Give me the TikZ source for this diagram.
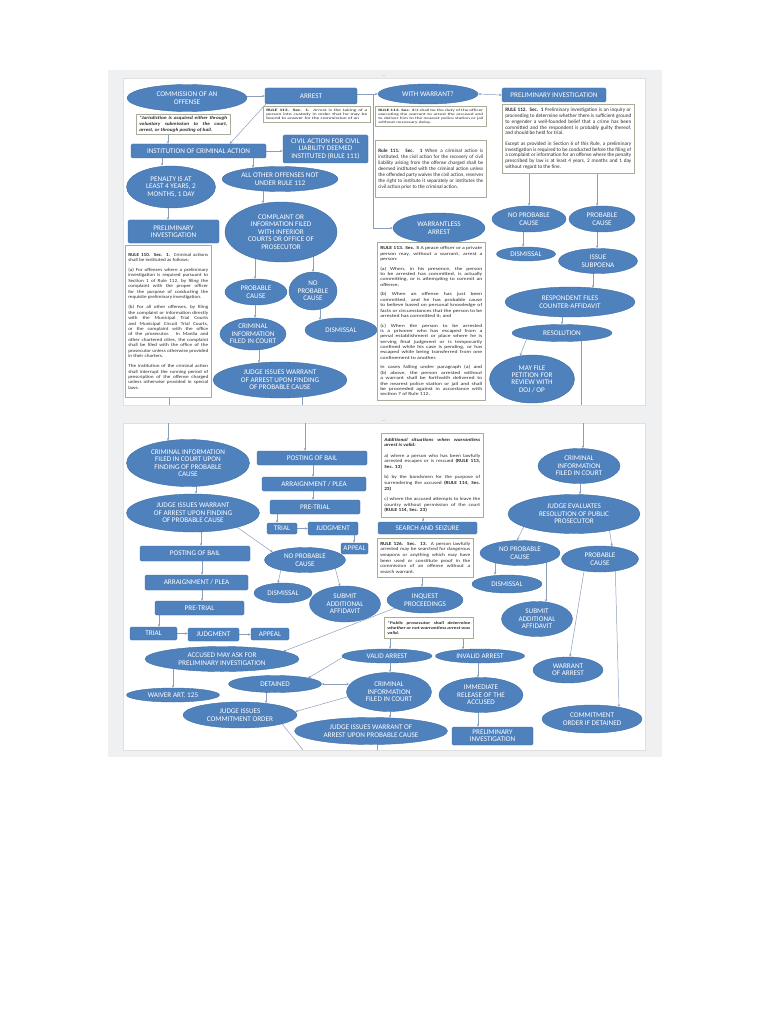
\documentclass[tikz,border=0pt]{standalone}
\usepackage{fontspec}
\usepackage{graphicx}
\setmainfont{Carlito}
\usetikzlibrary{shapes.geometric,arrows.meta,calc}
\pgfdeclarelayer{bglayer}
\pgfdeclarelayer{connlayer}
\pgfsetlayers{bglayer,connlayer,main}
\definecolor{nodeblue}{HTML}{4F81BD}
\definecolor{nodeedge}{HTML}{3F6FA6}
\definecolor{linegray}{HTML}{8C9FBA}
\definecolor{boxedge}{HTML}{A9AC98}
\definecolor{panelgray}{HTML}{EFF0F2}
\definecolor{bodytext}{HTML}{2E2E2E}
% #1 vertical factor, #2 width, #3 font size, #4 leading, #5 text
\newcommand\sqtext[5]{\scalebox{1}[#1]{\parbox{#2}{\fontsize{#3}{#4}\selectfont\sloppy\hyphenpenalty=10000\exhyphenpenalty=10000\relax #5}}}
\newcommand\pgap{\par\vspace{0.8\baselineskip}}
\tikzset{
  ell/.style={ellipse, fill=nodeblue, draw=nodeedge, line width=0.4pt, text=white, font=\fontsize{7.2}{7.4}\selectfont, align=center, inner sep=-3pt},
  rbox/.style={rectangle, rounded corners=1.5pt, fill=nodeblue, draw=nodeedge, line width=0.4pt, text=white, font=\fontsize{7.2}{7.4}\selectfont, align=center, inner sep=0pt},
  sz/.style 2 args={minimum width=#1pt, minimum height=#2pt},
  txtbox/.style={rectangle, draw=boxedge, fill=white, line width=0.5pt, inner xsep=3pt, inner ysep=1.5pt, anchor=north west, text=bodytext},
  arr/.style={draw=linegray, line width=0.5pt, -{Stealth[length=2.8pt,width=2.4pt]}},
  arrtwo/.style={draw=linegray, line width=0.5pt, {Stealth[length=2.8pt,width=2.4pt]}-{Stealth[length=2.8pt,width=2.4pt]}},
  ln/.style={draw=linegray, line width=0.5pt},
  page/.style={fill=white, draw=black!12, line width=0.5pt},
}
\begin{document}
\begin{tikzpicture}[x=1pt,y=-1pt]
\useasboundingbox (0,0) rectangle (768,1024);
\foreach \xx in {159,162,168,169,173,196,201,202,253,255,259,263,266,277,302,305,313,320,354,377,390,422,423,463,478,495,523,529,546,562,580,581,583,593,597}
  {\coordinate (gx\xx) at (\xx,0);}
% ---------------- page 1 ----------------
\node[ell, sz={120}{27}] (comm) at (187,98) {COMMISSION OF AN\\OFFENSE};
\node[rbox, sz={92}{16}] (arrest) at (311,96) {ARREST};
\node[ell, sz={100}{20}] (withw) at (428,94) {WITH WARRANT?};
\node[rbox, sz={104}{14}] (prelimtop) at (554,95) {PRELIMINARY INVESTIGATION};
\node[txtbox, sz={94}{20}] (note1) at (136,114) {\sqtext{0.87}{88pt}{5.3}{6.4}{\bfseries\itshape *Jurisdiction is acquired either through voluntary submission to the court, arrest, or through posting of bail.}};
\node[txtbox, sz={107}{16}] (r113a) at (263,106) {\sqtext{0.66}{101pt}{5.4}{6.5}{\textbf{RULE 113. Sec. 1.} Arrest is the taking of a person into custody in order that he may be bound to answer for the commission of an}};
\node[txtbox, sz={111}{20}] (r113c) at (375,106) {\sqtext{0.64}{105pt}{5.3}{6.4}{\textbf{RULE 113. Sec. 3} It shall be the duty of the officer executing the warrant to arrest the accused and to deliver him to the nearest police station or jail without necessary delay.}};
\node[rbox, sz={85}{28}] (civil) at (325.5,149) {CIVIL ACTION FOR CIVIL\\LIABILITY DEEMED\\INSTITUTED (RULE 111)};
\node[txtbox, sz={111}{57}] (r111) at (375,140) {\sqtext{1}{105pt}{5.1}{6.0}{\textbf{Rule 111. Sec. 1} When a criminal action is instituted, the civil action for the recovery of civil liability arising from the offense charged shall be deemed instituted with the criminal action unless the offended party waives the civil action, reserves the right to institute it separately or institutes the civil action prior to the criminal action.}};
\node[txtbox, sz={132}{69}] (r112) at (502,104) {\sqtext{1}{126pt}{5.2}{5.8}{\textbf{RULE 112. Sec. 1} Preliminary investigation is an inquiry or proceeding to determine whether there is sufficient ground to engender a well-founded belief that a crime has been committed and the respondent is probably guilty thereof, and should be held for trial.\pgap Except as provided in Section 6 of this Rule, a preliminary investigation is required to be conducted before the filing of a complaint or information for an offense where the penalty prescribed by law is at least 4 years, 2 months and 1 day without regard to the fine.}};
\node[rbox, sz={135}{14}] (institution) at (198.5,151) {INSTITUTION OF CRIMINAL ACTION};
\node[ell, sz={89}{42}] (penalty) at (171,187) {PENALTY IS AT\\LEAST 4 YEARS, 2\\MONTHS, 1 DAY};
\node[ell, sz={116}{25}] (allother) at (280,179) {ALL OTHER OFFENSES NOT\\UNDER RULE 112};
\node[rbox, sz={91}{23}] (prelim1) at (173.5,231.5) {PRELIMINARY\\INVESTIGATION};
\node[ell, sz={112}{60}] (complaint) at (281,232) {COMPLAINT OR\\INFORMATION FILED\\WITH INFERIOR\\COURTS OR OFFICE OF\\PROSECUTOR};
\node[ell, sz={92}{30}] (warrantless) at (439,228) {WARRANTLESS\\ARREST};
\node[ell, sz={74}{26}] (npc1) at (529,219) {NO PROBABLE\\CAUSE};
\node[ell, sz={66}{26}] (pc1) at (602,219) {PROBABLE\\CAUSE};
\node[txtbox, sz={86}{152}] (r110) at (125,245) {\sqtext{0.88}{80pt}{5.2}{6.2}{\textbf{RULE 110. Sec. 1.} Criminal actions shall be instituted as follows:\pgap (a) For offenses where a preliminary investigation is required pursuant to Section 1 of Rule 112, by filing the complaint with the proper officer for the purpose of conducting the requisite preliminary investigation.\pgap (b) For all other offenses, by filing the complaint or information directly with the Municipal Trial Courts and Municipal Circuit Trial Courts, or the complaint with the office of the prosecutor. In Manila and other chartered cities, the complaint shall be filed with the office of the prosecutor unless otherwise provided in their charters.\pgap The institution of the criminal action shall interrupt the running period of prescription of the offense charged unless otherwise provided in special laws.}};
\node[ell, sz={62}{26}] (pc2) at (256,292) {PROBABLE\\CAUSE};
\node[ell, sz={48}{38}] (npc2) at (313,291) {NO\\PROBABLE\\CAUSE};
\node[ell, sz={66}{32}] (crim1) at (253,334) {CRIMINAL\\INFORMATION\\FILED IN COURT};
\node[ell, sz={72}{24}] (dism1) at (341,330) {DISMISSAL};
\node[ell, sz={134}{36}] (judge1) at (280,380) {JUDGE ISSUES WARRANT\\OF ARREST UPON FINDING\\OF PROBABLE CAUSE};
\node[txtbox, sz={108}{158}] (r113e) at (377,242) {\sqtext{0.79}{102pt}{5.7}{6.8}{\textbf{RULE 113. Sec. 5} A peace officer or a private person may, without a warrant, arrest a person:\pgap (a) When, in his presence, the person to be arrested has committed, is actually committing, or is attempting to commit an offense;\pgap (b) When an offense has just been committed, and he has probable cause to believe based on personal knowledge of facts or circumstances that the person to be arrested has committed it; and\pgap (c) When the person to be arrested is a prisoner who has escaped from a penal establishment or place where he is serving final judgment or is temporarily confined while his case is pending, or has escaped while being transferred from one confinement to another.\pgap In cases falling under paragraph (a) and (b) above, the person arrested without a warrant shall be forthwith delivered to the nearest police station or jail and shall be proceeded against in accordance with section 7 of Rule 112.}};
\node[ell, sz={59}{14}] (dism2) at (526,254) {DISMISSAL};
\node[ell, sz={79}{25}] (subpoena) at (598,261) {ISSUE\\SUBPOENA};
\node[ell, sz={130}{30}] (respondent) at (570,302) {RESPONDENT FILES\\COUNTER-AFFIDAVIT};
\node[ell, sz={100}{17}] (resolution) at (562,333) {RESOLUTION};
\node[ell, sz={85}{48}] (mayfile) at (532,379) {MAY FILE\\PETITION FOR\\REVIEW WITH\\DOJ / OP};
% ---------------- page 2 ----------------
\node[ell, sz={123}{47}] (crimP2) at (188,463) {CRIMINAL INFORMATION\\FILED IN COURT UPON\\FINDING OF PROBABLE\\CAUSE};
\node[ell, sz={133}{38}] (judgeP2a) at (193,513) {JUDGE ISSUES WARRANT\\OF ARREST UPON FINDING\\OF PROBABLE CAUSE};
\node[rbox, sz={110}{15}] (bailA) at (195,553.5) {POSTING OF BAIL};
\node[rbox, sz={103}{15}] (arraignA) at (196.5,582.5) {ARRAIGNMENT / PLEA};
\node[rbox, sz={89}{14}] (pretrialA) at (199.5,608) {PRE-TRIAL};
\node[rbox, sz={47}{13}] (trialA) at (153.5,633.5) {TRIAL};
\node[rbox, sz={51}{13}] (judgmentA) at (213.5,634.5) {JUDGMENT};
\node[rbox, sz={38}{12}] (appealA) at (270,634) {APPEAL};
\node[rbox, sz={110}{14}] (bailB) at (312,458) {POSTING OF BAIL};
\node[rbox, sz={104}{14}] (arraignB) at (314,484) {ARRAIGNMENT / PLEA};
\node[rbox, sz={90}{14}] (pretrialB) at (315,507) {PRE-TRIAL};
\node[rbox, sz={30}{11}] (trialB) at (282,528.5) {TRIAL};
\node[rbox, sz={50}{13}] (judgmentB) at (333,528.5) {JUDGMENT};
\node[rbox, sz={27}{11}] (appealB) at (354.5,548.5) {APPEAL};
\node[ell, sz={81}{25}] (npcP2a) at (305,560) {NO PROBABLE\\CAUSE};
\node[ell, sz={58}{20}] (dismP2a) at (283,593) {DISMISSAL};
\node[ell, sz={71}{36}] (submitA) at (345,604) {SUBMIT\\ADDITIONAL\\AFFIDAVIT};
\node[txtbox, sz={102}{84}] (note2) at (381,433) {\sqtext{0.85}{96pt}{5.4}{6.7}{\textbf{\textit{Additional situations when warrantless arrest is valid:}}\pgap a) where a person who has been lawfully arrested escapes or is rescued \textbf{(RULE 113, Sec. 13)}\pgap b) by the bondsmen for the purpose of surrendering the accused \textbf{(RULE 114, Sec. 23)}\pgap c) where the accused attempts to leave the country without permission of the court \textbf{(RULE 114, Sec. 23)}}};
\node[rbox, sz={99}{12}] (search) at (427.5,528) {SEARCH AND SEIZURE};
\node[txtbox, sz={96}{39}] (r126) at (377,538) {\sqtext{0.85}{90pt}{5.4}{6.7}{\textbf{RULE 126. Sec. 13.} A person lawfully arrested may be searched for dangerous weapons or anything which may have been used or constitute proof in the commission of an offense without a search warrant.}};
\node[ell, sz={76}{26}] (inquest) at (425,600) {INQUEST\\PROCEEDINGS};
\node[txtbox, sz={89}{21}] (note3) at (384,617) {\sqtext{0.76}{83pt}{5.3}{6.5}{\bfseries\itshape *Public prosecutor shall determine whether or not warrantless arrest was valid.}};
\node[ell, sz={154}{25}] (accused) at (222,659) {ACCUSED MAY ASK FOR\\PRELIMINARY INVESTIGATION};
\node[ell, sz={93}{14}] (waiver) at (173,695) {WAIVER ART. 125};
\node[ell, sz={93}{17}] (detained) at (275,684) {DETAINED};
\node[ell, sz={114}{26}] (judgeCommit) at (240,715) {JUDGE ISSUES\\COMMITMENT ORDER};
\node[ell, sz={90}{14}] (valid) at (387,656) {VALID ARREST};
\node[ell, sz={89}{14}] (invalid) at (480,656) {INVALID ARREST};
\node[ell, sz={85}{39}] (crimP2b) at (389,692) {CRIMINAL\\INFORMATION\\FILED IN COURT};
\node[ell, sz={153}{27}] (judgeP2b) at (371,731) {JUDGE ISSUES WARRANT OF\\ARREST UPON PROBABLE CAUSE};
\node[ell, sz={84}{35}] (release) at (481,695) {IMMEDIATE\\RELEASE OF THE\\ACCUSED};
\node[rbox, sz={81}{18}] (prelimP2) at (492.5,736) {PRELIMINARY\\INVESTIGATION};
\node[ell, sz={82}{35}] (crimP2c) at (579,466) {CRIMINAL\\INFORMATION\\FILED IN COURT};
\node[ell, sz={132}{39}] (judgeEval) at (574,514) {JUDGE EVALUATES\\RESOLUTION OF PUBLIC\\PROSECUTOR};
\node[ell, sz={80}{25}] (npcP2b) at (520,553) {NO PROBABLE\\CAUSE};
\node[ell, sz={77}{26}] (pcP2) at (600,559) {PROBABLE\\CAUSE};
\node[ell, sz={70}{18}] (dismP2b) at (507,584) {DISMISSAL};
\node[ell, sz={71}{35}] (submitB) at (537,619) {SUBMIT\\ADDITIONAL\\AFFIDAVIT};
\node[ell, sz={70}{26}] (warrantB) at (568,670) {WARRANT\\OF ARREST};
\node[ell, sz={100}{28}] (commitB) at (592,719) {COMMITMENT\\ORDER IF DETAINED};
% free ends
\coordinate (p1a) at (169,405);
\coordinate (p1b) at (302,405);
\coordinate (p1c) at (581,405);
\coordinate (p2a) at (168,423);
\coordinate (p2b) at (305,423);
\coordinate (p2c) at (583,423);
\coordinate (p2d) at (303,750);
\coordinate (p2e) at (377,750);
% ---------------- background ----------------
\begin{pgfonlayer}{bglayer}
\fill[panelgray] (108,70) rectangle (662,757);
\fill[black!6] (124,79.5) rectangle (646.5,406.5);
\draw[page] (123,78) rectangle (645,405);
\fill[black!6] (124,424.5) rectangle (646.5,751.5);
\draw[page] (123,423) rectangle (645,750);
\node[text=black!45, font=\fontsize{5}{5}\selectfont, inner sep=0pt] (dotsA) at (384,76) {...};
\node[text=black!45, font=\fontsize{5}{5}\selectfont, inner sep=0pt] (dotsB) at (384,421) {...};
\end{pgfonlayer}
% ---------------- connectors ----------------
\begin{pgfonlayer}{connlayer}
% page 1
\draw[arr] (comm.center |- arrest.west) -- (arrest.west);
\draw[arr] ($(arrest.south west)+(1,0)$) -- ($(institution.north west)+(99,0)$);
\draw[arr] (arrest.center |- withw.west) -- (withw.west);
\draw[arrtwo] (withw.east) -- (prelimtop.west);
\draw[arr] ($(withw.west)+(-5,0)$) |- (warrantless.west);
\draw[arr] (note1.south -| gx168) -- (institution.north -| gx168);
\draw[arr] (institution.center -| civil.west) ++(-17,0) -- (institution.center -| civil.west);
\draw[arr] (institution.center -| gx162) -- (penalty.north -| gx162);
\draw[arr] (institution.center -| gx253) -- ($(allother.north -| gx253)+(0,1.4)$);
\draw[arr] (penalty.center -| gx168) -- (prelim1.north -| gx168);
\draw[arr] (allother.center -| gx263) -- ($(complaint.north -| gx263)+(0,1.5)$);
\draw[arr] (complaint.center -| gx255) -- (pc2.north -| gx255);
\draw[arr] (complaint.center -| gx313) -- (npc2.north);
\draw[arr] (pc2.center -| gx255) -- (crim1.north -| gx255);
\draw[arr] (crim1.center -| gx259) -- ($(judge1.north -| gx259)+(0,0.9)$);
\draw[arr] (npc2.center -| gx320) -- ($(dism1.north -| gx320)+(0,2.2)$);
\draw[arr] (r112.south -| gx529) -- (npc1.north);
\draw[arr] (r112.south -| gx597) -- (pc1.north -| gx597);
\draw[arr] (npc1.center -| gx523) -- (dism2.north -| gx523);
\draw[arr] (pc1.center -| gx597) -- (subpoena.north -| gx597);
\draw[arr] (subpoena.center -| gx593) -- ($(respondent.north -| gx593)+(0,1)$);
\draw[arr] (respondent.center -| gx562) -- (resolution.north -| gx562);
\draw[arr] ($(resolution.center)+(-33,0)$) -- ($(mayfile.north)+(-12,1)$);
\draw[ln] (resolution.center -| gx581) -- (p1c);
\draw[ln] (r110.south -| gx169) -- (p1a);
\draw[ln] (judge1.center -| gx302) -- (p1b);
% page 2
\draw[arr] (p2a) -- ($(crimP2.north -| gx168)+(0,1.3)$);
\draw[arr] (p2b) -- (bailB.north -| gx305);
\draw[arr] (p2c) -- (crimP2c.north -| gx583);
\draw[arr] (crimP2.center -| gx196) -- (judgeP2a.north -| gx196);
\draw[arr] (judgeP2a.center -| gx201) -- (bailA.north -| gx201);
\draw[arr] ($(judgeP2a.center)+(44,14.2)$) -- ($(npcP2a.west)+(8.5,-7.7)$);
\draw[arr] (bailA.south -| gx202) -- (arraignA.north -| gx202);
\draw[arr] (arraignA.south -| gx202) -- (pretrialA.north -| gx202);
\draw[arr] (pretrialA.south -| gx159) -- (trialA.north -| gx159);
\draw[arr] (trialA.east) -- (judgmentA.west |- trialA.east);
\draw[arr] (judgmentA.east) -- (appealA.west |- judgmentA.east);
\draw[arr] (bailB.south -| gx313) -- (arraignB.north -| gx313);
\draw[arr] (arraignB.south -| gx313) -- (pretrialB.north -| gx313);
\draw[arr] (pretrialB.south -| gx277) -- (trialB.north -| gx277);
\draw[arr] (trialB.east) -- (judgmentB.west |- trialB.east);
\draw[arr] (judgmentB.south -| gx354) -- (appealB.north -| gx354);
\draw[arr] ($(npcP2a.center)+(-22,0)$) -- ($(dismP2a.north)+(-5,0.3)$);
\draw[arr] ($(npcP2a.center)+(28,0)$) -- ($(submitA.north)+(-5,0.5)$);
\draw[arr] (note2.south -| gx423) -- (search.north -| gx423);
\draw[arr] (r126.south -| gx422) -- (inquest.north -| gx422);
\draw[arr] ($(inquest.center)+(-30,8)$) -- ($(accused.east)+(-16,-7.5)$);
\draw[arr] (note3.south -| gx390) -- (valid.north -| gx390);
\draw[arr] (note3.south -| gx463) -- ($(invalid.north -| gx463)+(0,0.5)$);
\draw[arr] (valid.center -| gx390) -- (crimP2b.north -| gx390);
\draw[arr] ($(valid.center)+(-42,0)$) -- ($(detained.east)+(-13.5,-6)$);
\draw[arrtwo] (detained.east) -- ($(crimP2b.west)+(2.8,-8)$);
\draw[arr] ($(crimP2b.center)+(-42,5)$) -- ($(judgeCommit.east)+(-2,-3.4)$);
\draw[arr] (crimP2b.center -| gx390) -- ($(judgeP2b.north -| gx390)+(0,0.4)$);
\draw[arr] (invalid.center -| gx478) -- (release.north -| gx478);
\draw[arr] (release.center -| gx478) -- (prelimP2.north -| gx478);
\draw[arr] (accused.center -| gx173) -- (waiver.north -| gx173);
\draw[arr] (detained.center -| gx266) -- ($(judgeCommit.north -| gx266)+(0,1.4)$);
\draw[ln] ($(judgeCommit.center)+(42,8.8)$) -- (p2d);
\draw[ln] (judgeP2b.center -| gx377) -- (p2e);
\draw[arr] (crimP2c.center -| gx580) -- (judgeEval.north -| gx580);
\draw[arr] ($(judgeEval.center)+(-44,0)$) -- ($(npcP2b.north)+(-3,0.2)$);
\draw[arr] ($(judgeEval.center)+(33,0)$) -- ($(pcP2.north)+(12,0.6)$);
\draw[arr] (npcP2b.center -| gx495) -- (dismP2b.north -| gx495);
\draw[arr] (npcP2b.center -| gx546) -- ($(submitB.north -| gx546)+(0,0.6)$);
\draw[arr] ($(pcP2.center)+(-14,0)$) -- ($(warrantB.north)+(2,0)$);
\draw[arr] ($(pcP2.center)+(15,0)$) -- ($(commitB.north)+(27,2.2)$);
\end{pgfonlayer}
\end{tikzpicture}
\end{document}
